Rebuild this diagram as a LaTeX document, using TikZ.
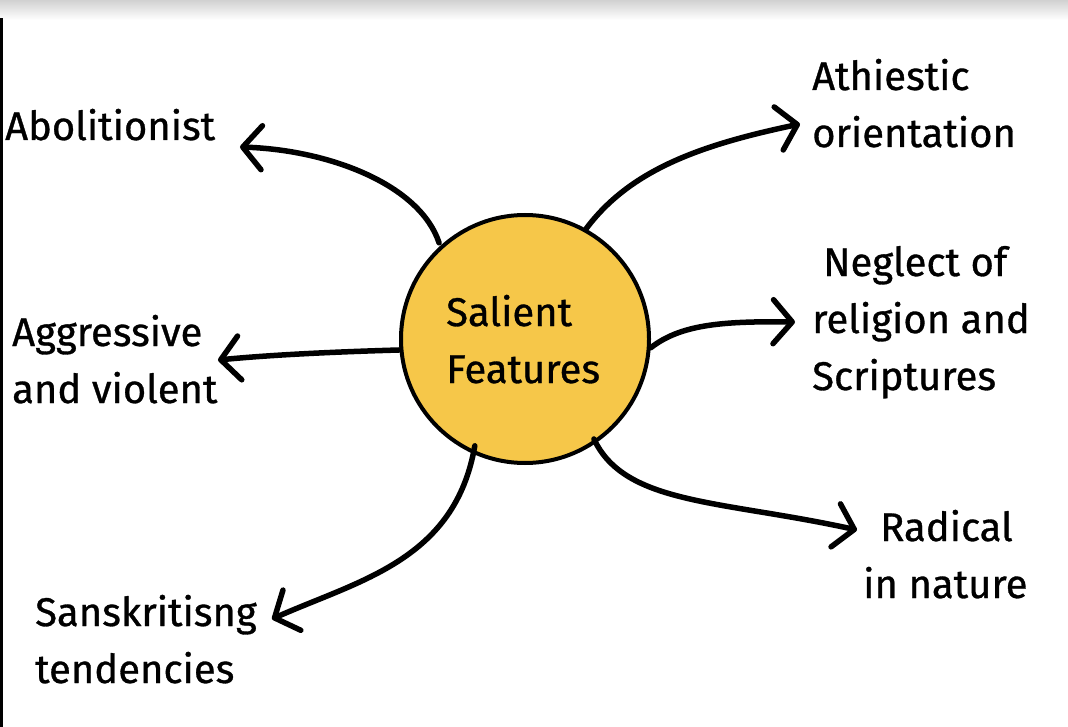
\documentclass[tikz,border=0pt]{standalone}
\usepackage{fontspec}
\setmainfont{Fira Sans}[UprightFeatures={FakeBold=0.8}]
\usetikzlibrary{arrows.meta}
\definecolor{sunny}{RGB}{246,199,73}
\tikzset{
  lbl/.style={anchor=base west, align=left, inner sep=0pt, font=\fontsize{40}{57}\selectfont},
  conn/.style={line width=5.5pt, line cap=round, -{Straight Barb[length=19pt,width=44pt,line width=5.5pt,round]}},
}
\begin{document}
\begin{tikzpicture}[x=1pt,y=-1pt]
\useasboundingbox (0,0) rectangle (1068,727);
\fill[white] (0,0) rectangle (1068,727);
\shade[top color=black!18, bottom color=white] (0,0) rectangle (1068,20);
\fill[black] (0,18) rectangle (2.5,727);

\node[circle, draw=black, line width=4pt, fill=sunny, minimum size=248pt, inner sep=0pt] (c) at (525,339) {};
\node[lbl] (sal) at (446,383) {Salient\\Features};

\node[lbl] (abo) at (5,140) {Abolitionist};
\node[lbl] (ath) at (812,147) {Athiestic\\orientation};
\node[lbl] (neg) at (812,390) {\hspace{11pt}Neglect of\\religion and\\Scriptures};
\node[lbl] (agg) at (12,403) {Aggressive\\and violent};
\node[lbl] (rad) at (863,598) {\hspace{17pt}Radical\\in nature};
\node[lbl] (san) at (35,683) {Sanskritisng\\tendencies};

\coordinate (tabo) at (240,147);
\coordinate (tath) at (800,124);
\coordinate (tneg) at (795,322);
\coordinate (tagg) at (218,360);
\coordinate (trad) at (857,530);
\coordinate (tsan) at (272,619);

\draw[conn] ([shift={(0,-4)}]c.133) .. controls (420,185) and (330,150) .. (tabo);
\draw[conn] (c.61) .. controls (630,170) and (700,145) .. (tath);
\draw[conn] (c.-4) .. controls (680,325) and (720,321) .. (tneg);
\draw[conn] ([shift={(4,-8)}]c.-59) .. controls (625,505) and (720,500) .. (trad);
\draw[conn] ([shift={(-3,-10)}]c.-112) .. controls (455,560) and (360,580) .. (tsan);
\draw[conn] (c.185) .. controls (330,352) and (270,355) .. (tagg);
\end{tikzpicture}
\end{document}
